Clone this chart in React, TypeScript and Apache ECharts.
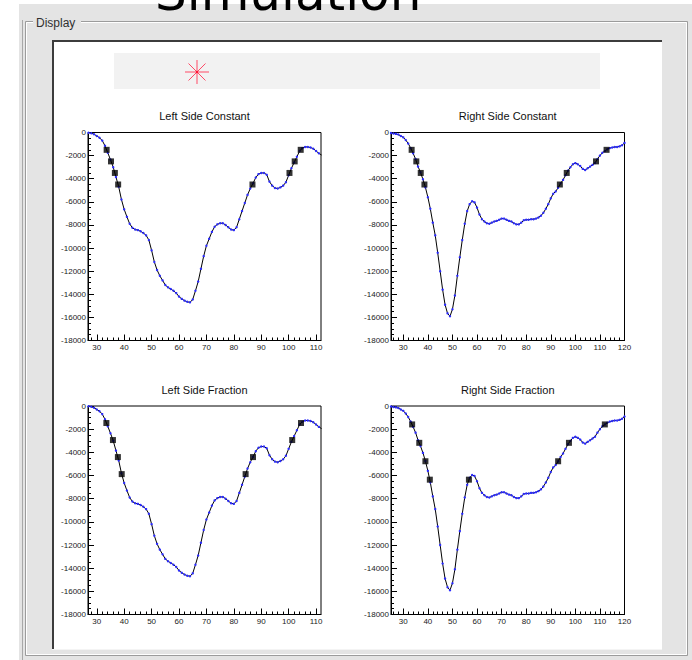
import React, { useEffect, useRef } from "react";
import * as echarts from "echarts";

// Energy curve sampled on the left-side fit (x, value)
const leftCurve: [number, number][] = [
  [27, -20], [28, -60], [29, -150], [30, -300], [31, -450], [32, -700], [33, -1150], [34, -1750],
  [35, -2350], [36, -3000], [37, -3850], [38, -4700], [39, -5800], [40, -6650], [41, -7300], [42, -7900],
  [43, -8250], [44, -8400], [45, -8450], [46, -8550], [47, -8700], [48, -8900], [49, -9300], [50, -10200],
  [51, -11200], [52, -11900], [53, -12400], [54, -12800], [55, -13200], [56, -13400], [57, -13550], [58, -13700],
  [59, -13900], [60, -14200], [61, -14400], [62, -14550], [63, -14650], [64, -14700], [65, -14450], [66, -13700],
  [67, -12900], [68, -11800], [69, -10700], [70, -9800], [71, -9200], [72, -8600], [73, -8150], [74, -7950],
  [75, -7850], [76, -7850], [77, -8000], [78, -8200], [79, -8400], [80, -8450], [81, -8200], [82, -7500],
  [83, -6800], [84, -6100], [85, -5400], [86, -4850], [87, -4400], [88, -3900], [89, -3600], [90, -3500],
  [91, -3500], [92, -3650], [93, -4250], [94, -4600], [95, -4800], [96, -4850], [97, -4750], [98, -4600],
  [99, -4300], [100, -3700], [101, -3100], [102, -2600], [103, -2100], [104, -1600], [105, -1350], [106, -1250],
  [107, -1250], [108, -1300], [109, -1400], [110, -1600], [111, -1800], [112, -1950],
];

// Energy curve sampled on the right-side fit (x, value)
const rightCurve: [number, number][] = [
  [25, -50], [26, -80], [27, -120], [28, -180], [29, -300], [30, -420], [31, -650], [32, -950],
  [33, -1350], [34, -1800], [35, -2300], [36, -2950], [37, -3450], [38, -4050], [39, -4750], [40, -5600],
  [41, -6600], [42, -7800], [43, -8900], [44, -10400], [45, -12000], [46, -13600], [47, -14900], [48, -15650],
  [49, -15900], [50, -15300], [51, -14100], [52, -12400], [53, -10800], [54, -9300], [55, -7900], [56, -6800],
  [57, -6200], [58, -5950], [59, -6050], [60, -6500], [61, -7100], [62, -7500], [63, -7700], [64, -7850],
  [65, -7900], [66, -7800], [67, -7700], [68, -7650], [69, -7550], [70, -7450], [71, -7450], [72, -7550],
  [73, -7650], [74, -7700], [75, -7850], [76, -7950], [77, -7950], [78, -7800], [79, -7600], [80, -7550],
  [81, -7550], [82, -7500], [83, -7500], [84, -7450], [85, -7350], [86, -7200], [87, -6950], [88, -6600],
  [89, -6200], [90, -5700], [91, -5300], [92, -5100], [93, -4780], [94, -4400], [95, -4100], [96, -3700],
  [97, -3300], [98, -3000], [99, -2750], [100, -2650], [101, -2750], [102, -2900], [103, -3150], [104, -3250],
  [105, -3100], [106, -2950], [107, -2800], [108, -2650], [109, -2300], [110, -2000], [111, -1750], [112, -1600],
  [113, -1450], [114, -1350], [115, -1300], [116, -1250], [117, -1250], [118, -1200], [119, -1100], [120, -900],
];

// Threshold crossings found on each side of the curve
const leftConstantMarks: [number, number][] = [
  [33.6, -1500], [35.2, -2500], [36.6, -3500], [37.8, -4500],
  [104.4, -1500], [102.2, -2500], [100.3, -3500], [86.8, -4500],
];
const rightConstantMarks: [number, number][] = [
  [33.4, -1500], [35.3, -2500], [37.1, -3500], [38.6, -4500],
  [112.7, -1500], [108.4, -2500], [96.5, -3500], [93.7, -4500],
];
const leftFractionMarks: [number, number][] = [
  [33.5, -1470], [35.9, -2940], [37.7, -4410], [39.1, -5880],
  [104.5, -1470], [101.3, -2940], [87.0, -4410], [84.3, -5880],
];
const rightFractionMarks: [number, number][] = [
  [33.6, -1590], [36.5, -3180], [39.0, -4770], [40.8, -6360],
  [112.0, -1590], [97.4, -3180], [93.0, -4770], [56.7, -6360],
];

const panelTitles = ["Left Side Constant", "Right Side Constant", "Left Side Fraction", "Right Side Fraction"];

const leftMajorTicks = [30, 40, 50, 60, 70, 80, 90, 100, 110];
const leftMinorTicks = [28, 32, 34, 36, 38, 42, 44, 46, 48, 52, 54, 56, 58, 62, 64, 66, 68, 72, 74, 76, 78, 82, 84, 86, 88, 92, 94, 96, 98, 102, 104, 106, 108];
const rightMajorTicks = [30, 40, 50, 60, 70, 80, 90, 100, 110, 120];
const rightMinorTicks = [26, 28, 32, 34, 36, 38, 42, 44, 46, 48, 52, 54, 56, 58, 62, 64, 66, 68, 72, 74, 76, 78, 82, 84, 86, 88, 92, 94, 96, 98, 102, 104, 106, 108, 112, 114, 116, 118];

const FONT = "'Liberation Sans', Arial, Helvetica, sans-serif";

type Panel = {
  title: string;
  curve: [number, number][];
  marks: [number, number][];
  xMin: number;
  xMax: number;
  major: number[];
  minor: number[];
  box: { left: number; top: number; width: number; height: number };
};

const panels: Panel[] = [
  { title: panelTitles[0], curve: leftCurve, marks: leftConstantMarks, xMin: 26.8, xMax: 111.8, major: leftMajorTicks, minor: leftMinorTicks, box: { left: 88, top: 132.5, width: 233, height: 208 } },
  { title: panelTitles[1], curve: rightCurve, marks: rightConstantMarks, xMin: 25, xMax: 120, major: rightMajorTicks, minor: rightMinorTicks, box: { left: 391, top: 132.5, width: 233.5, height: 208 } },
  { title: panelTitles[2], curve: leftCurve, marks: leftFractionMarks, xMin: 26.8, xMax: 111.8, major: leftMajorTicks, minor: leftMinorTicks, box: { left: 88, top: 406, width: 233, height: 208.5 } },
  { title: panelTitles[3], curve: rightCurve, marks: rightFractionMarks, xMin: 25, xMax: 120, major: rightMajorTicks, minor: rightMinorTicks, box: { left: 391, top: 406, width: 233.5, height: 208.5 } },
];

function buildOption() {
  const grid: any[] = [];
  const xAxis: any[] = [];
  const yAxis: any[] = [];
  const series: any[] = [];
  const titles: any[] = [];

  panels.forEach((p, i) => {
    grid.push({
      ...p.box,
      show: true,
      borderColor: "#000",
      borderWidth: 1,
      backgroundColor: "transparent",
      containLabel: false,
      outerBoundsMode: "none",
      z: 3,
    });
    xAxis.push({
      gridIndex: i,
      type: "value",
      min: p.xMin,
      max: p.xMax,
      position: "bottom",
      z: 4,
      axisLine: { show: true, onZero: false, lineStyle: { color: "#000", width: 1 } },
      axisTick: { show: true, inside: true, length: 6, customValues: p.major, lineStyle: { color: "#000", width: 1 } },
      axisLabel: { show: true, customValues: p.major, fontSize: 8, color: "#1a1a1a", margin: 3, fontFamily: FONT },
      splitLine: { show: false },
    });
    xAxis.push({
      gridIndex: i,
      type: "value",
      min: p.xMin,
      max: p.xMax,
      position: "bottom",
      z: 4,
      axisLine: { show: false, onZero: false },
      axisTick: { show: true, inside: true, length: 3, customValues: p.minor, lineStyle: { color: "#000", width: 1 } },
      axisLabel: { show: false },
      splitLine: { show: false },
    });
    yAxis.push({
      gridIndex: i,
      type: "value",
      min: -18000,
      max: 0,
      interval: 2000,
      z: 4,
      axisLine: { show: true, onZero: false, lineStyle: { color: "#000", width: 1 } },
      axisTick: { show: true, inside: true, length: 6, lineStyle: { color: "#000", width: 1 } },
      minorTick: { show: true, splitNumber: 4, length: 3, lineStyle: { color: "#000", width: 1 } },
      axisLabel: {
        show: true,
        fontSize: 8,
        color: "#1a1a1a",
        margin: 2,
        fontFamily: FONT,
        formatter: (v: number) => String(v),
      },
      splitLine: { show: false },
    });
    series.push({
      type: "line",
      xAxisIndex: 2 * i,
      yAxisIndex: i,
      data: p.curve,
      symbol: "circle",
      symbolSize: 2.4,
      showSymbol: true,
      showAllSymbol: true,
      lineStyle: { color: "#000", width: 1 },
      itemStyle: { color: "#2a2aff", borderWidth: 0 },
      silent: true,
      z: 10,
    });
    series.push({
      type: "scatter",
      xAxisIndex: 2 * i,
      yAxisIndex: i,
      data: p.marks,
      symbol: "rect",
      symbolSize: 6,
      itemStyle: { color: "#000" },
      silent: true,
      z: 11,
    });
    titles.push({
      type: "text",
      x: p.box.left + p.box.width / 2,
      y: p.box.top - 16.5,
      z: 5,
      style: {
        text: p.title,
        fill: "#111",
        font: `11px ${FONT}`,
        textAlign: "center",
        textVerticalAlign: "middle",
      },
    });
  });

  const panelGray = "#e4e4e4";
  const starX = 197;
  const starY = 72;
  const starR = 12;
  const starArms = [0, 45, 90, 135].map((deg) => {
    const a = (deg * Math.PI) / 180;
    return {
      type: "line",
      z: 1,
      shape: {
        x1: starX - starR * Math.cos(a),
        y1: starY - starR * Math.sin(a),
        x2: starX + starR * Math.cos(a),
        y2: starY + starR * Math.sin(a),
      },
      style: { stroke: "#ff4a66", lineWidth: 1 },
    };
  });

  const chrome: any[] = [
    { type: "rect", z: 0, shape: { x: 19, y: 4, width: 673, height: 656 }, style: { fill: panelGray } },
    {
      // window heading, only its lower edge shows at the top of the page
      type: "text",
      x: 155,
      y: -7,
      z: 3,
      style: {
        text: "Simulation",
        fill: "#000",
        font: `50px 'DejaVu Sans', sans-serif`,
        textAlign: "left",
        textVerticalAlign: "middle",
      },
    },
    { type: "line", z: 1, shape: { x1: 22.5, y1: 20, x2: 22.5, y2: 660 }, style: { stroke: "#a8a8a8", lineWidth: 1 } },
    { type: "rect", z: 1, shape: { x: 25.5, y: 21.5, width: 662, height: 634 }, style: { fill: "none", stroke: "#9c9c9c", lineWidth: 1 } },
    { type: "rect", z: 1, shape: { x: 26.5, y: 22.5, width: 660, height: 632 }, style: { fill: "none", stroke: "#ffffff", lineWidth: 1 } },
    { type: "rect", z: 1, shape: { x: 33, y: 15, width: 48, height: 14 }, style: { fill: panelGray } },
    {
      type: "text",
      x: 36,
      y: 22.5,
      z: 2,
      style: { text: "Display", fill: "#303030", font: `12px ${FONT}`, textAlign: "left", textVerticalAlign: "middle" },
    },
    { type: "rect", z: 1, shape: { x: 52, y: 40, width: 610, height: 609 }, style: { fill: "#ffffff" } },
    { type: "line", z: 2, shape: { x1: 52, y1: 41, x2: 662, y2: 41 }, style: { stroke: "#3c3c3c", lineWidth: 2 } },
    { type: "line", z: 2, shape: { x1: 53, y1: 40, x2: 53, y2: 649 }, style: { stroke: "#3c3c3c", lineWidth: 2 } },
    { type: "line", z: 2, shape: { x1: 52, y1: 649.5, x2: 662, y2: 649.5 }, style: { stroke: "#f4f4f4", lineWidth: 1 } },
    { type: "rect", z: 1, shape: { x: 114, y: 53, width: 486, height: 36 }, style: { fill: "#f2f2f2" } },
    ...starArms,
    { type: "circle", z: 2, shape: { cx: starX, cy: starY, r: 1.2 }, style: { fill: "#ff1030" } },
  ];

  return {
    animation: false,
    backgroundColor: "#ffffff",
    textStyle: { fontFamily: FONT },
    graphic: { elements: [...chrome, ...titles] },
    grid,
    xAxis,
    yAxis,
    series,
  };
}

export default function App() {
  const ref = useRef<HTMLDivElement>(null);

  useEffect(() => {
    document.body.style.margin = "0";
    if (!ref.current) return;
    const chart = echarts.init(ref.current, undefined, { renderer: "svg" });
    chart.setOption(buildOption() as any);
    return () => {
      chart.dispose();
    };
  }, []);

  return <div ref={ref} style={{ width: 692, height: 660 }} />;
}
